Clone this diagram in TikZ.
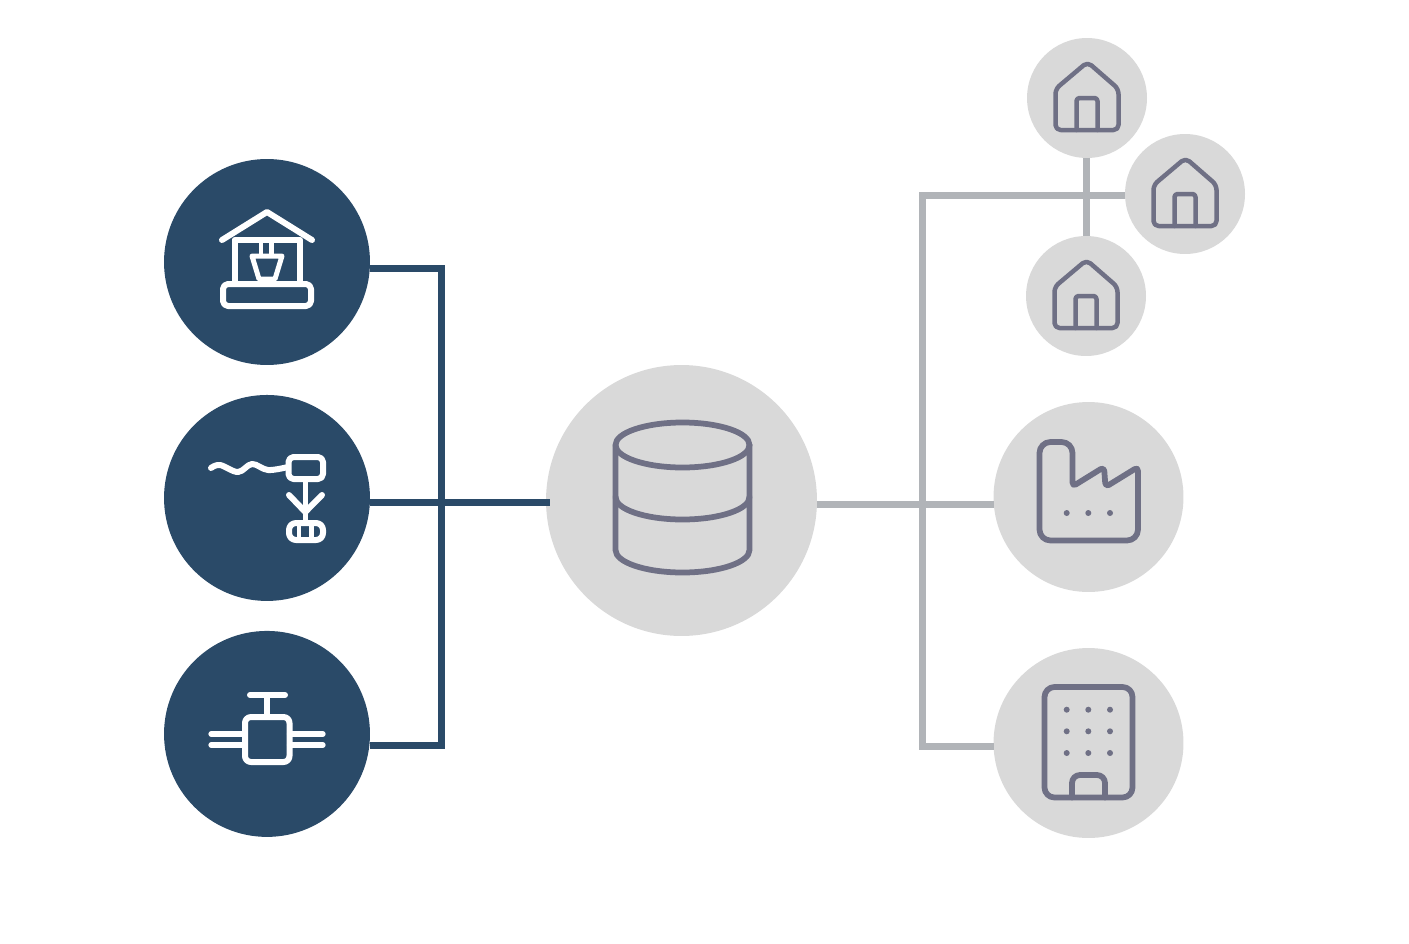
\documentclass[tikz,border=0pt]{standalone}
\usetikzlibrary{positioning, calc}
\definecolor{source}{HTML}{2A4A68}
\definecolor{disc}{HTML}{D9D9D9}
\definecolor{wire}{HTML}{B1B4B8}
\definecolor{glyph}{HTML}{6F7085}

\begin{document}
\begin{tikzpicture}[
        x=0.02cm, y=-0.02cm,
        sourcenode/.style={circle, fill=source, inner sep=0pt, outer sep=0pt, minimum size=4.12cm},
        hubnode/.style={circle, fill=disc, inner sep=0pt, outer sep=0pt, minimum size=5.42cm},
        sitenode/.style={circle, fill=disc, inner sep=0pt, outer sep=0pt, minimum size=3.8cm},
        homenode/.style={circle, fill=disc, inner sep=0pt, outer sep=0pt, minimum size=2.4cm},
        darkline/.style={draw=source, line width=0.14cm},
        greyline/.style={draw=wire, line width=0.14cm},
        whiteicon/.style={draw=white, line width=0.12cm, line cap=round, line join=round},
        greyicon/.style={draw=glyph, line width=0.115cm, line cap=round, line join=round},
        homeicon/.pic={
            \draw [greyicon, line width=0.09cm, rounded corners=0.1cm]
                (0.5,-36) -- (31.5,-9) -- (31.5,32) -- (-31.5,32) -- (-31.5,-9) -- cycle;
            \draw [greyicon, line width=0.09cm, rounded corners=0.06cm]
                (-10.5,32) -- (-10.5,0) -- (10.5,0) -- (10.5,32);
        }
    ]
    \useasboundingbox (0,0) rectangle (1409,943);

    \node (well) [sourcenode] at (267,262) {};
    \node (pump) [sourcenode, below=0.6cm of well] {};
    \node (valve) [sourcenode, below=0.6cm of pump] {};
    \node (db) [hubnode] at (681.5,500.5) {};
    \node (factory) [sitenode] at (1088.5,497) {};
    \node (office) [sitenode] at (1088.5,743) {};
    \node (home1) [homenode] at (1087,98) {};
    \node (home2) [homenode] at (1185,194) {};
    \node (home3) [homenode] at (1086,296) {};

    \coordinate (busdark) at (441,500);
    \coordinate (busgrey) at (922,500);
    \coordinate (dbin) at ($(pump.east)+(0,5)$);
    \coordinate (dbout) at ($(db.east)+(0,3.5)$);

    % connectors
    \draw [darkline] ($(well.east)+(0,6)$) -| (busdark) |- ($(valve.east)+(0,12)$);
    \draw [darkline] (dbin) -- ([xshift=0.08cm]dbin -| db.west);
    \draw [greyline] ($(office.west)+(0,3)$) -| (busgrey) |- ($(home2.west)+(0,1)$);
    \draw [greyline] (dbout) -- (dbout -| factory.west);
    \draw [greyline] (home1.south -| home3.north) -- (home3.north);

    % well
    \draw [whiteicon] (222,240) -- (267,212) -- (312,240);
    \draw [whiteicon, line cap=butt] (234.5,283) -- (234.5,240) -- (300,240) -- (300,283);
    \draw [whiteicon, rounded corners=0.1cm] (223,284) rectangle (311,306);
    \draw [whiteicon, line width=0.09cm, line cap=butt] (261,240) -- (261,256);
    \draw [whiteicon, line width=0.09cm, line cap=butt] (271.5,240) -- (271.5,256);
    \draw [whiteicon, line width=0.1cm] (252,256) -- (282,256) -- (275,279) -- (259,279) -- cycle;

    % pump
    \draw [whiteicon] plot [smooth, tension=0.6] coordinates
        {(211,468) (220,465) (238,472) (252,464) (268,470) (288,467)};
    \draw [whiteicon, rounded corners=0.1cm] (288.5,457) rectangle (323,479);
    \draw [whiteicon, line width=0.09cm] (305.3,479) -- (305.3,522);
    \draw [whiteicon] (289,495) -- (305.3,512) -- (322,495);
    \draw [whiteicon, rounded corners=0.14cm] (289,523) rectangle (323,540);
    \foreach \tickx in {299,311.5}
        \draw [whiteicon, line width=0.09cm, line cap=butt] (\tickx,523) -- (\tickx,540);

    % valve
    \draw [whiteicon] (250,695) -- (285,695);
    \draw [whiteicon, line cap=butt] (267,695) -- (267,717);
    \draw [whiteicon, rounded corners=0.12cm] (245,717) rectangle (289.5,762);
    \foreach \pipey in {734,745} {
        \draw [whiteicon, line width=0.105cm] (211,\pipey) -- (245,\pipey);
        \draw [whiteicon, line width=0.105cm] (289.5,\pipey) -- (323,\pipey);
    }

    % database
    \draw [greyicon] (682.5,445) ellipse [x radius=67, y radius=22.5];
    \draw [greyicon] (615.5,445) -- (615.5,550) arc [start angle=180, end angle=0, x radius=67, y radius=22.5] -- (749.5,445);
    \draw [greyicon] (615.5,497) arc [start angle=180, end angle=0, x radius=67, y radius=22.5];

    % homes
    \pic at (home1.center) {homeicon};
    \pic at (home2.center) {homeicon};
    \pic at (home3.center) {homeicon};

    % factory
    \draw [greyicon, rounded corners=0.22cm] (1088,540.5) -- (1039.5,540.5) -- (1039.5,442) -- (1072.5,442) [rounded corners=0.08cm] -- (1072.5,486.5) -- (1104,467) -- (1105.5,487) -- (1138,467) [rounded corners=0.22cm] -- (1138,540.5) -- (1088,540.5);
    \foreach \dotx in {1066.7,1088.3,1110}
        \fill [glyph] (\dotx,513) circle [radius=3];

    % office
    \draw [greyicon, rounded corners=0.2cm] (1044.5,687) rectangle (1132.5,797.5);
    \draw [greyicon, rounded corners=0.16cm] (1072,797.5) -- (1072,775) -- (1105,775) -- (1105,797.5);
    \foreach \dotx in {1066.7,1088.3,1110}
        \foreach \doty in {709.7,731.3,753}
            \fill [glyph] (\dotx,\doty) circle [radius=3];
\end{tikzpicture}
\end{document}
